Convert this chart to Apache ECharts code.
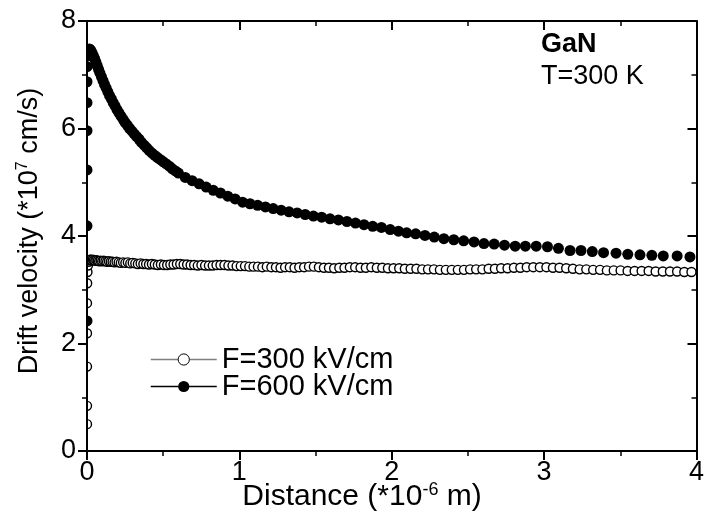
<!DOCTYPE html>
<html>
<head>
<meta charset="utf-8">
<script src="https://cdn.jsdelivr.net/npm/echarts@6/dist/echarts.min.js"></script>
<style>
html,body{margin:0;padding:0;background:#fff;}
#chart{width:707px;height:516px;}
</style>
</head>
<body>
<div id="chart"></div>
<script>
// ---- Data ----
const seriesNames = ['F=300 kV/cm', 'F=600 kV/cm'];
const xTicks = [0, 1, 2, 3, 4];
const yTicks = [0, 2, 4, 6, 8];

// F = 300 kV/cm (open circles)
const x300 = [
  0,0,0,0,0,0.001,0.003,0.006,0.01,0.015,
  0.02,0.026,0.032,0.039,0.046,0.054,0.062,0.071,0.08,0.09,
  0.1,0.11,0.121,0.132,0.144,0.156,0.168,0.181,0.194,0.208,
  0.222,0.237,0.252,0.268,0.284,0.3,0.317,0.334,0.352,0.37,
  0.388,0.407,0.426,0.445,0.465,0.485,0.505,0.526,0.547,0.568,
  0.59,0.612,0.634,0.657,0.68,0.703,0.727,0.751,0.775,0.8,
  0.825,0.85,0.876,0.902,0.928,0.955,0.982,1.009,1.037,1.065,
  1.093,1.122,1.151,1.18,1.21,1.24,1.27,1.3,1.331,1.362,
  1.393,1.425,1.457,1.489,1.522,1.555,1.588,1.622,1.656,1.69,
  1.725,1.76,1.795,1.83,1.866,1.902,1.938,1.975,2.012,2.049,
  2.086,2.124,2.162,2.2,2.238,2.277,2.316,2.355,2.394,2.434,
  2.474,2.514,2.554,2.595,2.636,2.677,2.718,2.76,2.802,2.844,
  2.886,2.929,2.972,3.015,3.058,3.101,3.145,3.189,3.233,3.277,
  3.322,3.367,3.412,3.457,3.502,3.548,3.594,3.64,3.686,3.732,
  3.779,3.826,3.873,3.92,3.967
];
const v300 = [
  0.5,0.84,1.57,2.19,2.75,3.12,3.33,3.45,3.52,3.55,
  3.56,3.56,3.55,3.56,3.55,3.54,3.55,3.54,3.53,3.54,
  3.53,3.54,3.53,3.52,3.53,3.52,3.52,3.51,3.52,3.51,
  3.50,3.51,3.50,3.51,3.49,3.50,3.49,3.48,3.49,3.48,
  3.48,3.47,3.48,3.47,3.46,3.47,3.46,3.46,3.47,3.47,
  3.48,3.48,3.47,3.47,3.46,3.46,3.45,3.46,3.45,3.45,
  3.45,3.46,3.46,3.46,3.45,3.45,3.44,3.44,3.44,3.43,
  3.43,3.43,3.42,3.43,3.42,3.42,3.41,3.42,3.42,3.41,
  3.42,3.42,3.43,3.43,3.42,3.41,3.41,3.40,3.41,3.41,
  3.42,3.42,3.41,3.41,3.42,3.41,3.41,3.40,3.40,3.40,
  3.39,3.39,3.39,3.38,3.38,3.38,3.37,3.37,3.37,3.37,
  3.37,3.38,3.38,3.38,3.39,3.39,3.40,3.40,3.41,3.41,
  3.42,3.42,3.42,3.42,3.41,3.41,3.40,3.39,3.38,3.38,
  3.37,3.37,3.36,3.36,3.36,3.35,3.35,3.35,3.35,3.34,
  3.34,3.34,3.34,3.33,3.33
];

// F = 600 kV/cm (filled circles)
const x600 = [
  0,0,0,0,0,0,0.001,0.003,0.006,0.01,
  0.015,0.02,0.027,0.034,0.042,0.05,0.058,0.067,0.076,0.085,
  0.095,0.105,0.115,0.126,0.137,0.148,0.16,0.172,0.184,0.197,
  0.21,0.223,0.237,0.251,0.265,0.28,0.295,0.31,0.326,0.342,
  0.358,0.375,0.392,0.409,0.427,0.445,0.463,0.482,0.501,0.52,
  0.54,0.56,0.58,0.6,0.645,0.69,0.736,0.782,0.829,0.876,
  0.924,0.972,1.021,1.07,1.12,1.171,1.222,1.274,1.326,1.379,
  1.432,1.486,1.54,1.595,1.65,1.706,1.762,1.818,1.875,1.932,
  1.99,2.044,2.098,2.157,2.218,2.279,2.342,2.407,2.472,2.54,
  2.605,2.672,2.74,2.81,2.877,2.948,3.022,3.094,3.17,3.242,
  3.316,3.39,3.472,3.549,3.629,3.707,3.782,3.873,3.957
];
const v600 = [
  2.42,4.19,5.23,5.96,6.48,6.87,7.15,7.35,7.44,7.47,
  7.48,7.47,7.44,7.40,7.35,7.30,7.24,7.17,7.10,7.03,
  6.96,6.89,6.82,6.75,6.68,6.61,6.55,6.48,6.42,6.35,
  6.29,6.23,6.17,6.11,6.06,6.00,5.95,5.90,5.85,5.80,
  5.74,5.69,5.64,5.59,5.54,5.50,5.46,5.42,5.38,5.34,
  5.30,5.25,5.21,5.17,5.09,5.03,4.97,4.91,4.85,4.80,
  4.74,4.69,4.63,4.60,4.57,4.54,4.51,4.48,4.45,4.43,
  4.40,4.37,4.35,4.32,4.30,4.27,4.24,4.21,4.18,4.16,
  4.12,4.09,4.06,4.04,4.01,3.98,3.95,3.93,3.91,3.89,
  3.86,3.85,3.83,3.81,3.81,3.81,3.80,3.77,3.73,3.73,
  3.71,3.69,3.68,3.66,3.65,3.64,3.63,3.63,3.61
];

// ---- Chart ----
const FONT = 'Liberation Sans, Arial, sans-serif';
const FS = 27;
const chart = echarts.init(document.getElementById('chart'), null, {renderer: 'canvas'});

const d300 = x300.map((x, i) => [x, v300[i]]);
const d600 = x600.map((x, i) => [x, v600[i]]);

const axisCommon = {
  z: 100,
  axisLine: {show: true, onZero: false, lineStyle: {color: '#000', width: 2}},
  splitLine: {show: false}
};

const option = {
  backgroundColor: '#fff',
  animation: false,
  grid: {left: 87, right: 7, top: 21, bottom: 65, containLabel: false},
  xAxis: [
    Object.assign({}, axisCommon, {
      type: 'value', position: 'bottom', min: xTicks[0], max: xTicks[xTicks.length - 1], interval: 1,
      axisTick: {show: true, inside: false, length: 9, lineStyle: {color: '#000', width: 2}},
      minorTick: {show: true, splitNumber: 2, length: 5, lineStyle: {color: '#000', width: 1.5}},
      axisLabel: {color: '#000', fontSize: FS, fontFamily: FONT, margin: 8}
    }),
    Object.assign({}, axisCommon, {
      type: 'value', position: 'top', min: xTicks[0], max: xTicks[xTicks.length - 1], interval: 1,
      axisTick: {show: true, inside: true, length: 9, lineStyle: {color: '#000', width: 2}},
      minorTick: {show: true, splitNumber: 2, length: 5, lineStyle: {color: '#000', width: 1.5}},
      axisLabel: {show: false}
    })
  ],
  yAxis: [
    Object.assign({}, axisCommon, {
      type: 'value', position: 'left', min: yTicks[0], max: yTicks[yTicks.length - 1], interval: 2,
      axisTick: {show: true, inside: false, length: 9, lineStyle: {color: '#000', width: 2}},
      minorTick: {show: true, splitNumber: 2, length: 5, lineStyle: {color: '#000', width: 1.5}},
      axisLabel: {color: '#000', fontSize: FS, fontFamily: FONT, margin: 11}
    }),
    Object.assign({}, axisCommon, {
      type: 'value', position: 'right', min: yTicks[0], max: yTicks[yTicks.length - 1], interval: 2,
      axisTick: {show: true, inside: true, length: 9, lineStyle: {color: '#000', width: 2}},
      minorTick: {show: true, splitNumber: 2, length: 5, lineStyle: {color: '#000', width: 1.5}},
      axisLabel: {show: false}
    })
  ],
  legend: {
    left: 145, top: 340, orient: 'vertical',
    itemWidth: 66, itemHeight: 14, itemGap: -2,
    textStyle: {color: '#000', fontSize: 29, fontFamily: FONT, lineHeight: 27},
    data: [
      {name: seriesNames[0],
       lineStyle: {color: '#808080', width: 1.5, opacity: 1},
       itemStyle: {color: '#fff', borderColor: '#000', borderWidth: 1}},
      {name: seriesNames[1],
       lineStyle: {color: '#000', width: 1.5, opacity: 1},
       itemStyle: {color: '#000', borderColor: '#000', borderWidth: 0}}
    ]
  },
  series: [
    {
      name: seriesNames[0], type: 'line', data: d300, z: 2,
      xAxisIndex: 0, yAxisIndex: 0, clip: false,
      symbol: 'circle', symbolSize: 9, showSymbol: true, showAllSymbol: true,
      lineStyle: {width: 0, opacity: 0, color: '#808080'},
      itemStyle: {color: '#fff', borderColor: '#000', borderWidth: 1.4},
      emphasis: {disabled: true}
    },
    {
      name: seriesNames[1], type: 'line', data: d600, z: 3,
      xAxisIndex: 0, yAxisIndex: 0, clip: false,
      symbol: 'circle', symbolSize: 11, showSymbol: true, showAllSymbol: true,
      lineStyle: {width: 0, opacity: 0, color: '#000'},
      itemStyle: {color: '#000', borderWidth: 0},
      emphasis: {disabled: true}
    }
  ],
  graphic: {
    z: 50,
    elements: [
      // white mask left of the y axis to half-clip markers sitting on x = 0
      {type: 'rect', z: 50, silent: true, shape: {x: 0, y: 0, width: 86, height: 516}, style: {fill: '#fff'}},
      {type: 'text', z: 101, x: 362, y: 497, silent: true,
       style: {text: 'Distance (*10{sup|-6} m)', fill: '#000', font: '30px ' + FONT,
               align: 'center', verticalAlign: 'middle',
               rich: {sup: {fontSize: 18, fontFamily: FONT, fill: '#000', verticalAlign: 'top', lineHeight: 32}}}},
      {type: 'text', z: 101, x: 30, y: 231, rotation: Math.PI / 2, silent: true,
       style: {text: 'Drift velocity (*10{sup|7} cm/s)', fill: '#000', font: FS + 'px ' + FONT,
               align: 'center', verticalAlign: 'middle',
               rich: {sup: {fontSize: 16, fontFamily: FONT, fill: '#000', verticalAlign: 'top', lineHeight: 30}}}},
      {type: 'text', z: 101, x: 541, y: 45, silent: true,
       style: {text: 'GaN', fill: '#000', font: 'bold ' + FS + 'px ' + FONT, align: 'left', verticalAlign: 'middle'}},
      {type: 'text', z: 101, x: 541, y: 77, silent: true,
       style: {text: 'T=300 K', fill: '#000', font: FS + 'px ' + FONT, align: 'left', verticalAlign: 'middle'}}
    ]
  }
};
chart.setOption(option);
</script>
</body>
</html>
